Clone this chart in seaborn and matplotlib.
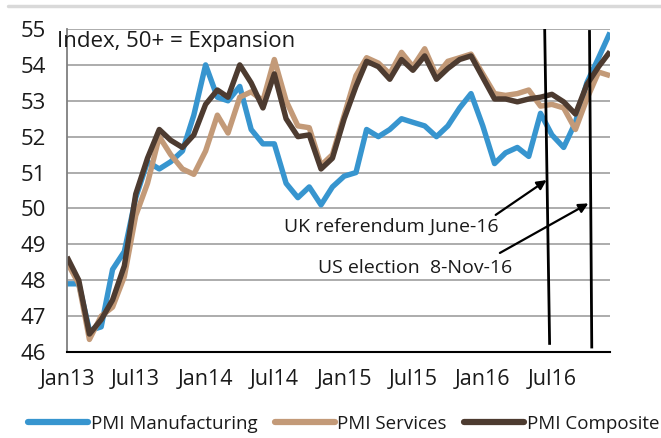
import matplotlib
matplotlib.use("Agg")
import matplotlib.pyplot as plt
import seaborn as sns
import pandas as pd
import numpy as np
from matplotlib.lines import Line2D

# ---------------- data ----------------
start_month = "2013-01-01"
n_months = 48
series_names = ["PMI Manufacturing", "PMI Services", "PMI Composite"]
series_colors = ["#3795cf", "#c39a78", "#4d3b30"]

pmi_manufacturing = [47.9, 47.9, 46.6, 46.7, 48.3, 48.8, 50.3, 51.3, 51.1, 51.3, 51.6, 52.6,
                     54.0, 53.1, 53.0, 53.4, 52.2, 51.8, 51.8, 50.7, 50.3, 50.6, 50.1, 50.6,
                     50.9, 51.0, 52.2, 52.0, 52.2, 52.5, 52.4, 52.3, 52.0, 52.3, 52.8, 53.2,
                     52.3, 51.25, 51.55, 51.7, 51.45, 52.65, 52.05, 51.7, 52.4, 53.5, 54.2, 54.9]
pmi_services = [48.5, 47.9, 46.35, 47.0, 47.25, 48.1, 49.8, 50.7, 52.0, 51.5, 51.1, 50.95,
                51.6, 52.6, 52.1, 53.1, 53.25, 53.0, 54.15, 53.0, 52.3, 52.25, 51.2, 51.5,
                52.6, 53.7, 54.2, 54.05, 53.75, 54.35, 53.95, 54.45, 53.7, 54.1, 54.2, 54.3,
                53.75, 53.2, 53.15, 53.2, 53.3, 52.85, 52.9, 52.8, 52.2, 53.05, 53.8, 53.7]
pmi_composite = [48.65, 48.0, 46.5, 46.9, 47.45, 48.4, 50.4, 51.4, 52.2, 51.9, 51.7, 52.05,
                 52.9, 53.3, 53.1, 54.0, 53.5, 52.8, 53.75, 52.5, 52.0, 52.05, 51.1, 51.4,
                 52.5, 53.4, 54.1, 53.95, 53.6, 54.15, 53.85, 54.25, 53.6, 53.9, 54.15, 54.25,
                 53.65, 53.05, 53.05, 52.97, 53.05, 53.1, 53.18, 52.97, 52.63, 53.45, 53.95, 54.37]

xtick_labels = ["Jan13", "Jul13", "Jan14", "Jul14", "Jan15", "Jul15", "Jan16", "Jul16"]
ytick_values = [46, 47, 48, 49, 50, 51, 52, 53, 54, 55]
axis_title = "Index, 50+ = Expansion"
uk_label = "UK referendum June-16"
us_label = "US election  8-Nov-16"

dates = pd.date_range(start_month, periods=n_months, freq="MS")
df = pd.DataFrame({
    "date": np.tile(dates, 3),
    "value": pmi_manufacturing + pmi_services + pmi_composite,
    "series": np.repeat(series_names, n_months),
})

# ---------------- figure ----------------
sns.set_theme(style="white")
plt.rcParams["font.family"] = ["Open Sans", "DejaVu Sans"]

W, H = 661, 438
fig = plt.figure(figsize=(W / 100, H / 100), dpi=100)
ax = fig.add_axes([67 / W, 1 - 352 / H, (610 - 67) / W, (352 - 29) / H])

sns.lineplot(data=df, x="date", y="value", hue="series", hue_order=series_names,
             palette=series_colors, linewidth=3.9, ax=ax, legend=False)
for ln in ax.lines:
    ln.set_solid_joinstyle("round")
    ln.set_solid_capstyle("butt")

ax.set_xlim(dates[0], dates[-1])
ax.set_ylim(46, 55)
ax.set_yticks(ytick_values)
ax.set_yticklabels([str(v) for v in ytick_values])
tick_dates = pd.date_range(start_month, periods=len(xtick_labels), freq="6MS")
ax.set_xticks(tick_dates)
ax.set_xticklabels(xtick_labels)
ax.set_xlabel("")
ax.set_ylabel("")

ax.grid(axis="y", color="#a6a6a6", linewidth=1.3)
ax.grid(axis="x", visible=False)
ax.set_axisbelow(True)
for s in ["top", "right"]:
    ax.spines[s].set_visible(False)
ax.spines["left"].set_color("#7f7f7f")
ax.spines["left"].set_linewidth(1.3)
ax.spines["bottom"].set_color("black")
ax.spines["bottom"].set_linewidth(1.5)
ax.tick_params(axis="x", length=5, width=1.3, color="black", direction="out",
               pad=7, labelsize=15.5, labelcolor="#1a1a1a")
ax.tick_params(axis="y", length=0, pad=15, labelsize=16, labelcolor="#1a1a1a")

ax.text(-0.018, 0.961, axis_title, transform=ax.transAxes, ha="left", va="center",
        fontsize=16, color="#1a1a1a")

# event lines
ax.plot([pd.Timestamp("2016-06-12"), pd.Timestamp("2016-06-25")], [55, 46.2],
        color="black", lw=2.0, solid_capstyle="butt")
ax.plot([pd.Timestamp("2016-10-08"), pd.Timestamp("2016-10-14")], [54.97, 46.1],
        color="black", lw=2.0, solid_capstyle="butt")

# annotations
ax.text(pd.Timestamp("2016-02-13"), 49.49, uk_label, ha="right", va="center",
        fontsize=14, color="#1a1a1a")
ax.text(pd.Timestamp("2016-03-19"), 48.34, us_label, ha="right", va="center",
        fontsize=14, color="#1a1a1a")
ax.annotate("", xy=(pd.Timestamp("2016-06-17"), 50.79),
            xytext=(pd.Timestamp("2016-02-04"), 49.82),
            arrowprops=dict(arrowstyle="-|>", color="black", lw=1.6,
                            mutation_scale=14, shrinkA=0, shrinkB=0))
ax.annotate("", xy=(pd.Timestamp("2016-10-05"), 50.14),
            xytext=(pd.Timestamp("2016-02-15"), 48.76),
            arrowprops=dict(arrowstyle="-|>", color="black", lw=1.6,
                            mutation_scale=14, shrinkA=0, shrinkB=0))

# top separator
fig.add_artist(Line2D([8 / W, 1.0], [1 - 6 / H, 1 - 6 / H], transform=fig.transFigure,
                      color="#d9d9d9", lw=2.5))

# legend
handles = [Line2D([0], [0], color=c, lw=4.5, solid_capstyle="round") for c in series_colors]
fig.legend(handles, series_names, loc="center", bbox_to_anchor=(0.52, 1 - 424 / H),
           ncol=3, frameon=False, fontsize=13.5, handlelength=3.2, handletextpad=0.15,
           columnspacing=0.9, labelcolor="#1a1a1a")

fig.savefig("out.png", dpi=100)
